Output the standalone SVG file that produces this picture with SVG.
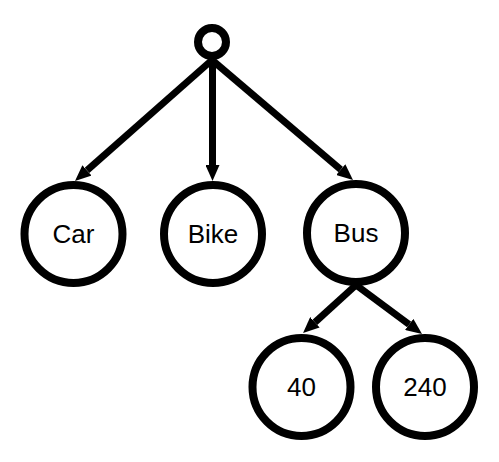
<svg xmlns="http://www.w3.org/2000/svg" width="499" height="462" viewBox="0 0 499 462">
<style>
.node circle{fill:#fff;stroke:#000;stroke-width:8}
.node text{font-family:"Liberation Sans",Arial,sans-serif;font-size:26px;fill:#000;text-anchor:middle}
.edge{stroke:#000;stroke-width:7;fill:none}
</style>
<defs>
<marker id="arr" markerUnits="userSpaceOnUse" markerWidth="16" markerHeight="14" refX="0" refY="7" orient="auto">
<path d="M0,0 L16,7 L0,14 z" fill="#000"/>
</marker>
</defs>
<rect width="499" height="462" fill="#fff"/>
<g id="connectors">
<line class="edge" x1="212" y1="60" x2="87" y2="170.4" marker-end="url(#arr)"/>
<line class="edge" x1="212.5" y1="60" x2="212.5" y2="165" marker-end="url(#arr)"/>
<line class="edge" x1="212" y1="60" x2="340.8" y2="169.6" marker-end="url(#arr)"/>
<line class="edge" x1="356" y1="285" x2="314.9" y2="322.3" marker-end="url(#arr)"/>
<line class="edge" x1="356" y1="285" x2="409.2" y2="324.5" marker-end="url(#arr)"/>
</g>
<g id="root" class="node"><circle cx="212" cy="42" r="14"/></g>
<g id="car" class="node"><circle cx="73.5" cy="234" r="49"/><text x="73.5" y="243">Car</text></g>
<g id="bike" class="node"><circle cx="213" cy="234" r="49"/><text x="213" y="243">Bike</text></g>
<g id="bus" class="node"><circle cx="356" cy="233" r="49"/><text x="356" y="242">Bus</text></g>
<g id="n40" class="node"><circle cx="301.5" cy="387" r="49"/><text x="301.5" y="396">40</text></g>
<g id="n240" class="node"><circle cx="425" cy="387" r="49"/><text x="425" y="396">240</text></g>
</svg>
